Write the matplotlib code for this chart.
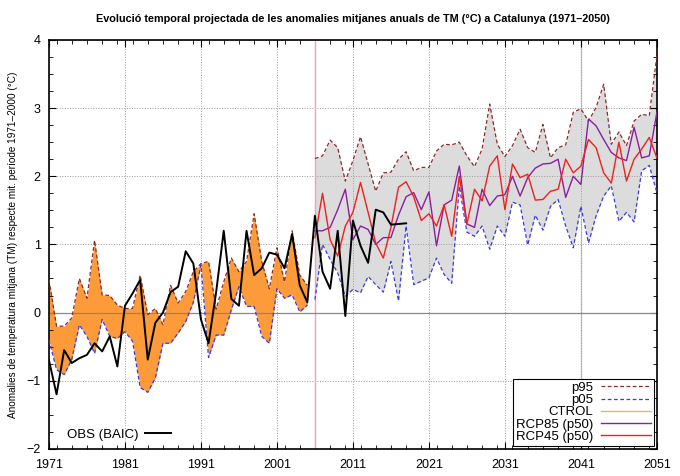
import numpy as np
import matplotlib
matplotlib.use('Agg')
import matplotlib.pyplot as plt
from matplotlib.lines import Line2D
from matplotlib.ticker import MultipleLocator

plt.rcParams['font.family'] = ['Liberation Sans', 'DejaVu Sans']

# control period (1971-2005): p95 / p05 envelope
ctrl_years = np.arange(1971, 2006)
ctrl_p95 = [0.48, -0.2, -0.2, -0.08, 0.5, 0.21, 1.06, 0.26, 0.25, 0.11,
            0.06, 0.06, 0.55, -0.03, 0.06, -0.18, 0.4, 0.14, 0.31, 0.6,
            0.72, 0.75, 0.05, 0.45, 0.8, 0.6, 0.75, 1.45, 0.75, 0.35,
            0.95, 0.45, 1.2, 0.55, 0.4]
ctrl_p05 = [-0.4, -0.84, -0.91, -0.69, -0.18, -0.35, -0.6, -0.1, -0.35, -0.38,
            -0.28, -0.42, -1.1, -1.17, -0.96, -0.45, -0.45, -0.3, -0.13, 0.15,
            0.7, -0.66, -0.33, -0.33, 0.04, 0.38, 0.09, 0.09, -0.35, -0.45,
            0.35, 0.21, 0.26, 0.01, 0.11]

# projections (2006-2051)
proj_years = np.arange(2006, 2052)
p95 = [2.26, 2.30, 2.53, 2.42, 1.93, 2.23, 2.58, 2.18, 1.78, 2.05,
       2.06, 2.25, 2.36, 2.08, 2.13, 2.13, 2.37, 2.47, 2.46, 2.50,
       2.30, 2.14, 2.40, 3.06, 2.47, 2.29, 2.45, 2.69, 2.42, 2.35,
       2.76, 2.27, 2.42, 2.46, 2.94, 2.99, 2.81, 3.01, 3.35, 2.47,
       2.65, 2.45, 2.81, 2.91, 2.89, 3.77]
p05 = [0.19, 1.0, 0.78, 0.58, 0.24, 0.34, 0.29, 0.53, 0.41, 0.30,
       0.75, 0.17, 1.27, 0.41, 0.46, 0.51, 0.80, 0.56, 0.43, 1.85,
       1.18, 1.12, 1.27, 0.93, 1.27, 1.12, 1.62, 1.58, 0.99, 1.43,
       1.21, 1.56, 1.66, 1.27, 0.95, 1.56, 1.02, 1.42, 1.71, 1.86,
       1.34, 1.47, 1.33, 2.08, 2.16, 1.76]
rcp45 = [1.1, 1.75, 1.07, 0.83, 1.27, 1.47, 1.91, 1.47, 1.02, 0.80,
         1.25, 1.84, 1.92, 1.70, 1.35, 1.45, 1.27, 1.58, 1.12, 2.0,
         1.3, 1.81, 1.64, 2.15, 2.3, 1.51, 2.18, 1.98, 2.03, 1.65,
         1.66, 1.78, 1.81, 2.25, 2.05, 2.15, 2.54, 2.42, 2.05, 1.9,
         2.5, 1.93, 2.25, 2.4, 2.57, 2.27]
rcp85 = [1.2, 1.2, 1.25, 1.51, 1.81, 1.07, 1.27, 1.22, 1.0, 1.1,
         1.1, 1.43, 1.70, 1.76, 1.51, 1.77, 0.98, 1.58, 1.65, 2.15,
         1.3, 1.25, 1.81, 1.57, 1.71, 1.73, 2.0, 1.71, 1.98, 2.12,
         2.18, 2.19, 2.25, 1.69, 2.0, 1.88, 2.84, 2.74, 2.54, 2.35,
         2.27, 2.23, 2.72, 2.27, 2.3, 2.94]

# observations
obs_years = np.arange(1971, 2019)
obs = [-0.7, -1.2, -0.55, -0.74, -0.67, -0.62, -0.45, -0.57, -0.35, -0.79,
       0.1, 0.28, 0.48, -0.69, -0.15, 0.0, 0.3, 0.38, 0.9, 0.72,
       -0.1, -0.45, 0.3, 1.2, 0.2, 0.1, 1.2, 0.55, 0.65, 0.88,
       0.85, 0.65, 1.15, 0.4, 0.15, 1.42, 0.6, 0.35, 1.2, -0.05,
       1.35, 0.98, 0.73, 1.51, 1.47, 1.29, 1.3, 1.31]

c_p95 = '#8b2a2a'
c_p05 = '#3a3ae0'
c_ctrl = '#f7b060'
c_fill = '#fd9a3a'
c_85 = '#8a1f9e'
c_45 = '#ee2020'
dash = (0, (3, 2))

fig = plt.figure(figsize=(6.8, 4.76), dpi=100)
ax = fig.add_axes([0.072, 0.057, 0.894, 0.859])

ax.fill_between(ctrl_years, ctrl_p05, ctrl_p95, color=c_fill, lw=0, zorder=1)
ax.fill_between(proj_years, p05, p95, color='#dcdcdc', lw=0, zorder=1)

ax.plot(ctrl_years, ctrl_p95, color=c_p95, ls=dash, lw=0.9, zorder=3)
ax.plot(ctrl_years, ctrl_p05, color=c_p05, ls=dash, lw=0.9, zorder=3)
ax.plot(proj_years, p95, color=c_p95, ls=dash, lw=0.9, zorder=3)
ax.plot(proj_years, p05, color=c_p05, ls=dash, lw=0.9, zorder=3)
ax.plot(proj_years, rcp85, color=c_85, lw=1.0, zorder=4)
ax.plot(proj_years, rcp45, color=c_45, lw=1.0, zorder=4)
obs_line, = ax.plot(obs_years, obs, color='black', lw=1.4, zorder=5)

ax.axvline(2006, color='#f0a0b8', lw=1.0, zorder=2)
ax.axhline(0, color='#888888', lw=0.9, zorder=2)
ax.axvline(2041, color='#c8c8c8', lw=1.0, zorder=0)

ax.set_xlim(1971, 2051)
ax.set_ylim(-2, 4)
ax.set_xticks(np.arange(1971, 2052, 10))
ax.xaxis.set_minor_locator(MultipleLocator(2))
ax.set_yticks(np.arange(-2, 5, 1))
ax.yaxis.set_minor_locator(MultipleLocator(0.25))
ax.tick_params(which='both', direction='in', top=True, right=True, labelsize=9)
ax.tick_params(which='major', length=5)
ax.tick_params(which='minor', length=3)
ax.tick_params(axis='x', pad=7)
ax.tick_params(axis='y', pad=6)
ax.grid(True, which='major', color='#999999', ls=':', lw=0.7)
for s in ax.spines.values():
    s.set_linewidth(1.2)

ax.set_title('Evolució temporal projectada de les anomalies mitjanes anuals de TM (°C) a Catalunya (1971–2050)',
             fontsize=7.8, fontweight='bold', pad=13)
ax.set_ylabel('Anomalies de temperatura mitjana (TM) respecte mit. període 1971–2000 (°C)',
              fontsize=7.2, labelpad=6)

handles = [
    Line2D([], [], color=c_p95, ls=dash, lw=0.9),
    Line2D([], [], color=c_p05, ls=dash, lw=0.9),
    Line2D([], [], color=c_ctrl, lw=1.0),
    Line2D([], [], color=c_85, lw=1.0),
    Line2D([], [], color=c_45, lw=1.0),
]
labels = ['p95', 'p05', 'CTROL', 'RCP85 (p50)', 'RCP45 (p50)']
leg = ax.legend(handles, labels, loc='lower right', markerfirst=False, fontsize=9.5,
                labelspacing=0.0, handlelength=3.8, handletextpad=0.6, borderpad=0.2,
                fancybox=False, framealpha=1, edgecolor='black', borderaxespad=0.25)
leg.get_frame().set_linewidth(0.8)
ax.add_artist(leg)

ax.legend([obs_line], ['OBS (BAIC)'], loc='lower left', markerfirst=False, fontsize=9.5,
          frameon=False, handlelength=2.0, handletextpad=0.5, bbox_to_anchor=(0.01, -0.01))

fig.savefig('out.png', dpi=100)
